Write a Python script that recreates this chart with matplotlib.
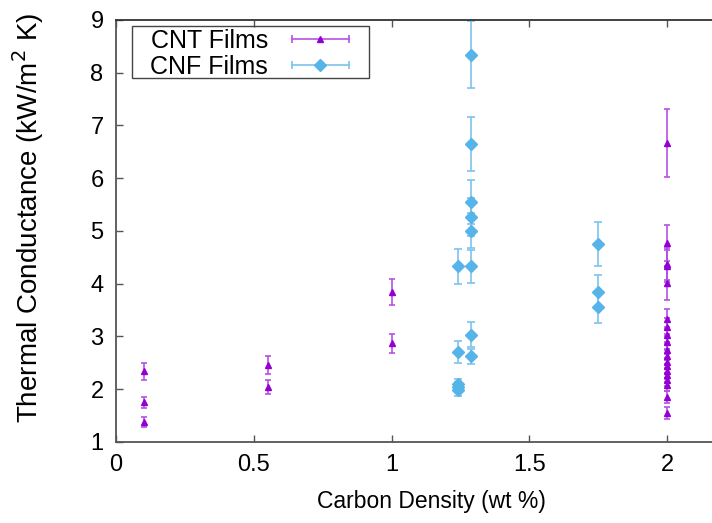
import matplotlib.pyplot as plt
from matplotlib.lines import Line2D
from matplotlib.patches import Rectangle
from matplotlib.legend_handler import HandlerLine2D

plt.rcParams['font.family'] = ['Liberation Sans', 'DejaVu Sans']

# CNT films (purple triangles)
cnt_x = [0.1, 0.1, 0.1, 0.55, 0.55, 1.0, 1.0,
         2.0, 2.0, 2.0, 2.0, 2.0, 2.0, 2.0, 2.0, 2.0, 2.0, 2.0, 2.0,
         2.0, 2.0, 2.0, 2.0, 2.0, 2.0, 2.0]
cnt_y = [2.34, 1.75, 1.38, 2.46, 2.04, 3.84, 2.87,
         6.67, 4.77, 4.37, 4.33, 4.01, 3.33, 3.17, 3.02, 2.89, 2.75,
         2.62, 2.52, 2.43, 2.35, 2.27, 2.18, 2.08, 1.85, 1.55]
cnt_err = [0.16, 0.11, 0.09, 0.17, 0.14, 0.25, 0.18,
           0.65, 0.34, 0.30, 0.30, 0.32, 0.19, 0.17, 0.16, 0.15, 0.15,
           0.14, 0.14, 0.13, 0.13, 0.13, 0.12, 0.12, 0.12, 0.12]

# CNF films (blue diamonds)
cnf_x = [1.24, 1.24, 1.24, 1.24, 1.24,
         1.29, 1.29, 1.29, 1.29, 1.29, 1.29, 1.29, 1.29,
         1.75, 1.75, 1.75]
cnf_y = [4.33, 2.70, 2.10, 2.04, 1.98,
         8.34, 6.65, 5.55, 5.26, 5.00, 4.33, 3.03, 2.62,
         4.75, 3.85, 3.56]
cnf_err = [0.33, 0.21, 0.10, 0.10, 0.10,
           0.63, 0.51, 0.42, 0.36, 0.33, 0.31, 0.24, 0.15,
           0.41, 0.32, 0.30]

purple = '#9400d3'
purple_bar = '#b650e8'
blue = '#56b4e9'
blue_bar = '#7cc4ee'

fig = plt.figure(figsize=(7.12, 5.23), dpi=100)
ax = fig.add_axes([0.163, 0.155, 0.837, 0.807])

ax.errorbar(cnt_x, cnt_y, yerr=cnt_err, fmt='^', color=purple, ecolor=purple_bar,
            markersize=5, elinewidth=1.2, capsize=2.5, capthick=1.2)
ax.errorbar(cnf_x, cnf_y, yerr=cnf_err, fmt='D', color=blue, ecolor=blue_bar,
            markersize=6.5, elinewidth=1.2, capsize=3, capthick=1.2)

ax.set_xlim(0, 2.163)
ax.set_ylim(1, 9)
ax.set_xticks([0, 0.5, 1, 1.5, 2])
ax.set_xticklabels(['0', '0.5', '1', '1.5', '2'])
ax.set_yticks(range(1, 10))

ax.tick_params(axis='both', direction='in', length=5, width=1, color='#555555',
               labelsize=17)
ax.tick_params(axis='x', top=True, pad=8.5)
ax.tick_params(axis='y', pad=9)
ax.spines['right'].set_visible(False)
for s in ['left', 'bottom']:
    ax.spines[s].set_color('#555555')
    ax.spines[s].set_linewidth(1.3)
ax.spines['top'].set_color('#333333')
ax.spines['top'].set_linewidth(1.3)

ax.set_xlabel('Carbon Density (wt %)', fontsize=16.5)
ax.set_ylabel('Thermal Conductance (kW/m$^2$ K)', fontsize=20)
ax.xaxis.set_label_coords(0.53, -0.115)
ax.yaxis.set_label_coords(-0.117, 0.53)

# legend in gnuplot style: horizontal bar with caps, marker in the middle
cnt_bar = Line2D([], [], color=purple_bar, lw=1.2, marker='|', markersize=6, mew=1.2)
cnt_mark = Line2D([], [], color=purple, ls='none', marker='^', markersize=5)
cnf_bar = Line2D([], [], color=blue_bar, lw=1.2, marker='|', markersize=6, mew=1.2)
cnf_mark = Line2D([], [], color=blue, ls='none', marker='D', markersize=6.5)
leg = ax.legend([(cnt_bar, cnt_mark), (cnf_bar, cnf_mark)], ['CNT Films', 'CNF Films'],
                loc='upper left', bbox_to_anchor=(0.057, 0.978), markerfirst=False,
                numpoints=2, handlelength=2.9, fontsize=18, frameon=False,
                borderpad=0, labelspacing=0.08, handletextpad=0.65, borderaxespad=0,
                handler_map={cnt_mark: HandlerLine2D(numpoints=1),
                             cnf_mark: HandlerLine2D(numpoints=1)})

# gnuplot-like key box
ax.add_patch(Rectangle((0.027, 0.8625), 0.3975, 0.1235, transform=ax.transAxes,
                       fill=False, edgecolor='#444444', lw=1.0, zorder=5))

plt.savefig('out.png', dpi=100)
